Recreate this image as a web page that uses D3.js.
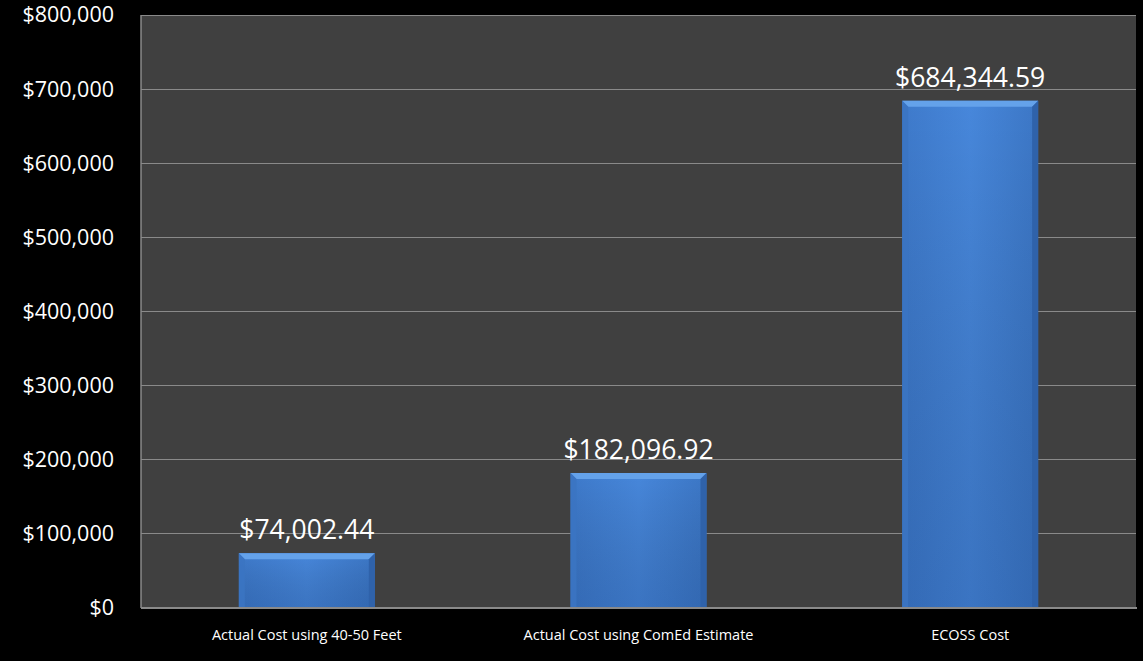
<!DOCTYPE html>
<html><head><meta charset="utf-8">
<script src="https://d3js.org/d3.v7.min.js"></script>
<style>body{margin:0;background:#000;}svg{display:block;}</style>
</head><body>
<svg id="c" width="1143" height="661"></svg>
<script>
const categories = ["Actual Cost using 40-50 Feet", "Actual Cost using ComEd Estimate", "ECOSS Cost"];
const values = [74002.44, 182096.92, 684344.59];
const valueLabels = ["$74,002.44", "$182,096.92", "$684,344.59"];
const tickValues = [0, 100000, 200000, 300000, 400000, 500000, 600000, 700000, 800000];

const svg = d3.select("#c");
const W = 1143, H = 661;
const m = {left: 141, right: 1136, top: 15, bottom: 608};
svg.append("rect").attr("width", W).attr("height", H).attr("fill", "#000");

const x = d3.scaleBand().domain(categories).range([m.left, m.right]).paddingInner(0.59).paddingOuter(0.295);
const y = d3.scaleLinear().domain([0, 800000]).range([m.bottom, m.top]);

svg.append("rect").attr("x", m.left).attr("y", m.top).attr("width", m.right - m.left).attr("height", m.bottom - m.top).attr("fill", "#404040");

// gridlines
svg.append("g").selectAll("line").data(tickValues.slice(1)).join("line")
  .attr("x1", m.left).attr("x2", m.right)
  .attr("y1", d => y(d)).attr("y2", d => y(d))
  .attr("stroke", "#8a8a8a").attr("stroke-width", 1).attr("shape-rendering", "crispEdges");

// defs
const defs = svg.append("defs");
const g = defs.append("linearGradient").attr("id", "barg").attr("x1", 0).attr("x2", 1).attr("y1", 0).attr("y2", 0);
g.append("stop").attr("offset", "0%").attr("stop-color", "#3e7acb");
g.append("stop").attr("offset", "50%").attr("stop-color", "#4787db");
g.append("stop").attr("offset", "100%").attr("stop-color", "#3c77c6");
const gv = defs.append("linearGradient").attr("id", "barv").attr("x1", 0).attr("x2", 0).attr("y1", 0).attr("y2", 1);
gv.append("stop").attr("offset", "0%").attr("stop-color", "#000").attr("stop-opacity", 0);
gv.append("stop").attr("offset", "100%").attr("stop-color", "#0a2a60").attr("stop-opacity", 0.2);

const bw = x.bandwidth();
const bev = 6;
const bars = svg.append("g").selectAll("g").data(categories).join("g");
bars.append("rect")
  .attr("x", d => x(d)).attr("width", bw)
  .attr("y", (d, i) => y(values[i])).attr("height", (d, i) => y(0) - y(values[i]))
  .attr("fill", "url(#barg)");
bars.append("rect")
  .attr("x", d => x(d)).attr("width", bw)
  .attr("y", (d, i) => y(values[i])).attr("height", (d, i) => y(0) - y(values[i]))
  .attr("fill", "url(#barv)");
// top bevel
bars.append("path").attr("d", (d, i) => {
  const x0 = x(d), x1 = x0 + bw, t = y(values[i]);
  return `M${x0},${t}L${x1},${t}L${x1 - bev},${t + bev}L${x0 + bev},${t + bev}Z`;
}).attr("fill", "#64a2ea");
// left bevel
bars.append("path").attr("d", (d, i) => {
  const x0 = x(d), t = y(values[i]), b = y(0);
  return `M${x0},${t}L${x0 + bev},${t + bev}L${x0 + bev},${b}L${x0},${b}Z`;
}).attr("fill", "#3b74c2").attr("opacity", 0.9);
// right bevel
bars.append("path").attr("d", (d, i) => {
  const x1 = x(d) + bw, t = y(values[i]), b = y(0);
  return `M${x1},${t}L${x1 - bev},${t + bev}L${x1 - bev},${b}L${x1},${b}Z`;
}).attr("fill", "#2f62aa");

// axes lines
svg.append("line").attr("x1", m.left).attr("x2", m.left).attr("y1", m.top).attr("y2", m.bottom)
  .attr("stroke", "#8a8a8a").attr("stroke-width", 1.5);
svg.append("line").attr("x1", m.left).attr("x2", m.right + 1).attr("y1", m.bottom).attr("y2", m.bottom)
  .attr("stroke", "#8a8a8a").attr("stroke-width", 2);

// y tick labels
const fmt = d => "$" + d3.format(",")(d);
const yAxis = d3.axisLeft(y).tickValues(tickValues).tickFormat(fmt).tickSize(0).tickPadding(27);
const ya = svg.append("g").attr("transform", `translate(${m.left},0)`).call(yAxis);
ya.select(".domain").remove();
ya.selectAll("text").attr("fill", "#ffffff").attr("font-family", "'Open Sans', sans-serif").attr("font-size", 21.5);

// x labels
const xAxis = d3.axisBottom(x).tickSize(0).tickPadding(22);
const xa = svg.append("g").attr("transform", `translate(0,${m.bottom})`).call(xAxis);
xa.select(".domain").remove();
xa.selectAll("text").attr("fill", "#ffffff").attr("font-family", "'Open Sans', sans-serif").attr("font-size", 14.5);

// value labels
svg.append("g").selectAll("text").data(categories).join("text")
  .attr("x", d => x(d) + bw / 2)
  .attr("y", (d, i) => y(values[i]) - 14)
  .attr("text-anchor", "middle")
  .attr("fill", "#ffffff").attr("font-family", "'Open Sans', sans-serif").attr("font-size", 26.5)
  .text((d, i) => valueLabels[i]);
</script>
</body></html>
